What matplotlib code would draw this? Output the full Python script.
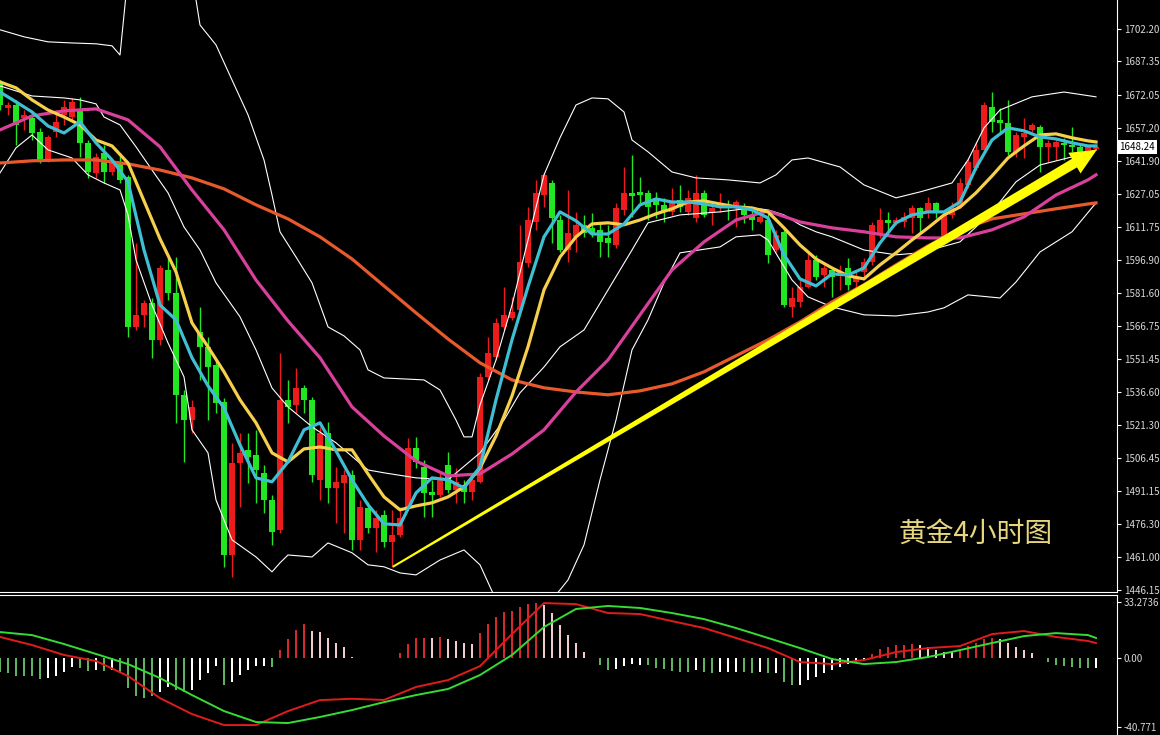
import numpy as np
import matplotlib.pyplot as plt
from matplotlib.patches import Polygon

plt.rcParams['font.family'] = ['Noto Sans CJK SC', 'DejaVu Sans']

# ---- 4h gold candles (oldest first) ----
opens = [1677.6, 1666.2, 1667.5, 1661.6, 1661.6, 1655.2, 1642.4, 1655.2, 1663.0, 1662.0,
         1665.2, 1650.2, 1636.5, 1645.6, 1636.9, 1641.0, 1634.7, 1566.2, 1571.7, 1577.2,
         1560.3, 1592.2, 1581.7, 1535.2, 1523.8, 1563.9, 1557.1, 1548.9, 1532.0, 1462.1,
         1504.1, 1510.1, 1507.8, 1499.6, 1487.2, 1473.5, 1532.9, 1530.6, 1538.4, 1532.9,
         1496.4, 1517.8, 1492.7, 1495.0, 1498.7, 1469.0, 1483.6, 1474.5, 1480.4, 1468.1,
         1471.3, 1484.0, 1511.0, 1502.3, 1490.9, 1489.5, 1503.2, 1491.8, 1494.1, 1490.9,
         1495.5, 1543.4, 1552.5, 1566.2, 1570.3, 1574.0, 1595.4, 1614.1, 1626.4, 1631.9,
         1615.0, 1601.3, 1607.3, 1612.8, 1611.4, 1610.5, 1606.8, 1603.6, 1619.6, 1627.4,
         1627.8, 1627.4, 1625.1, 1621.9, 1618.7, 1624.2, 1618.7, 1615.9, 1627.4, 1618.2,
         1620.9, 1621.9, 1621.9, 1620.5, 1617.3, 1614.1, 1615.0, 1601.3, 1609.6, 1575.3,
         1577.6, 1584.5, 1596.8, 1589.9, 1592.2, 1589.4, 1593.1, 1586.7, 1591.3, 1595.9,
         1608.2, 1615.0, 1613.7, 1614.1, 1615.9, 1620.5, 1618.2, 1622.8, 1605.9, 1617.3,
         1620.9, 1631.0, 1638.8, 1647.0, 1666.6, 1660.7, 1659.3, 1646.1, 1652.9, 1656.1,
         1657.5, 1648.4, 1648.4, 1650.2, 1649.3, 1648.4, 1646.1, 1647.4]
highs = [1678.9, 1668.9, 1669.8, 1665.2, 1663.9, 1657.0, 1653.8, 1665.2, 1669.8, 1670.7,
         1671.2, 1651.5, 1645.6, 1649.3, 1642.4, 1645.6, 1635.6, 1604.5, 1578.5, 1579.4,
         1594.5, 1597.7, 1598.1, 1537.4, 1532.9, 1575.3, 1561.6, 1551.1, 1533.8, 1513.3,
         1517.8, 1517.8, 1519.2, 1503.2, 1489.5, 1554.3, 1542.0, 1547.5, 1539.7, 1534.3,
         1520.6, 1522.8, 1502.3, 1500.9, 1500.9, 1487.2, 1486.3, 1482.7, 1482.7, 1482.7,
         1484.0, 1515.5, 1516.0, 1505.5, 1496.4, 1499.6, 1509.2, 1501.8, 1496.4, 1498.7,
         1545.2, 1561.6, 1570.3, 1584.5, 1579.9, 1612.8, 1621.0, 1633.3, 1636.5, 1633.3,
         1617.3, 1628.7, 1618.7, 1617.3, 1618.2, 1613.7, 1612.8, 1622.8, 1639.2, 1644.7,
         1634.7, 1628.7, 1627.8, 1625.1, 1629.6, 1631.0, 1628.7, 1635.6, 1628.7, 1621.9,
         1627.4, 1624.2, 1624.2, 1622.8, 1620.5, 1619.6, 1618.7, 1610.5, 1611.4, 1584.5,
         1588.6, 1600.4, 1599.1, 1594.5, 1593.1, 1594.5, 1597.7, 1591.3, 1597.7, 1614.1,
         1620.5, 1618.7, 1616.4, 1618.7, 1621.9, 1620.9, 1625.5, 1623.2, 1618.7, 1623.2,
         1634.2, 1643.3, 1650.6, 1668.9, 1673.5, 1666.2, 1669.8, 1655.2, 1661.6, 1659.3,
         1658.4, 1651.5, 1651.5, 1652.5, 1657.5, 1649.3, 1649.3, 1649.3]
lows = [1665.2, 1663.0, 1649.3, 1656.1, 1651.5, 1641.0, 1641.5, 1652.9, 1658.4, 1660.7,
        1643.8, 1634.2, 1634.2, 1631.9, 1635.6, 1631.9, 1561.6, 1564.8, 1566.2, 1552.1,
        1558.0, 1578.5, 1522.4, 1504.6, 1517.8, 1542.0, 1523.8, 1527.0, 1456.7, 1452.1,
        1484.0, 1495.0, 1485.9, 1481.3, 1466.7, 1472.2, 1522.4, 1527.0, 1527.0, 1495.5,
        1487.2, 1485.9, 1476.7, 1472.2, 1464.4, 1464.4, 1472.2, 1463.5, 1465.8, 1456.7,
        1470.4, 1483.6, 1501.8, 1479.5, 1479.5, 1488.6, 1490.4, 1485.9, 1485.9, 1487.2,
        1495.0, 1542.0, 1551.1, 1564.8, 1569.4, 1573.0, 1593.6, 1610.5, 1621.0, 1604.5,
        1600.4, 1595.9, 1600.4, 1607.3, 1607.3, 1598.1, 1598.1, 1602.3, 1617.3, 1616.4,
        1622.8, 1615.0, 1615.9, 1614.1, 1617.3, 1618.7, 1617.3, 1614.1, 1616.4, 1612.8,
        1618.7, 1615.0, 1611.8, 1613.7, 1610.5, 1613.7, 1595.4, 1600.4, 1575.3, 1570.8,
        1575.3, 1584.0, 1587.6, 1584.5, 1579.9, 1583.1, 1583.1, 1584.0, 1588.6, 1594.5,
        1606.8, 1609.6, 1612.8, 1611.8, 1609.1, 1609.1, 1615.9, 1615.9, 1605.0, 1615.9,
        1620.5, 1629.6, 1637.8, 1646.1, 1655.2, 1655.2, 1644.7, 1643.8, 1643.3, 1655.2,
        1636.9, 1641.5, 1642.4, 1642.4, 1646.1, 1643.8, 1644.7, 1647.0]
closes = [1667.5, 1667.5, 1658.4, 1663.0, 1654.7, 1642.4, 1652.9, 1659.8, 1666.6, 1668.9,
          1650.2, 1636.9, 1643.8, 1636.9, 1641.0, 1633.3, 1566.2, 1571.7, 1577.2, 1560.3,
          1593.1, 1581.7, 1535.2, 1523.8, 1529.7, 1557.1, 1547.9, 1531.5, 1462.1, 1504.1,
          1508.7, 1506.9, 1500.9, 1487.2, 1472.6, 1532.9, 1529.7, 1538.4, 1532.9, 1498.7,
          1517.8, 1492.7, 1495.5, 1498.7, 1469.0, 1484.0, 1474.5, 1479.0, 1468.1, 1471.3,
          1479.0, 1511.0, 1504.6, 1490.4, 1489.5, 1497.3, 1491.8, 1495.5, 1490.9, 1496.4,
          1543.4, 1554.3, 1568.0, 1571.7, 1573.0, 1595.9, 1615.0, 1627.4, 1635.6, 1615.9,
          1601.3, 1609.1, 1612.8, 1609.1, 1609.1, 1605.0, 1604.5, 1620.5, 1627.4, 1626.0,
          1626.4, 1621.0, 1621.9, 1618.7, 1623.2, 1621.0, 1625.1, 1627.4, 1617.3, 1620.5,
          1622.8, 1621.4, 1623.2, 1617.3, 1615.0, 1616.4, 1599.1, 1608.2, 1576.2, 1579.4,
          1584.5, 1596.8, 1589.0, 1593.1, 1589.0, 1591.3, 1585.4, 1589.0, 1595.9, 1612.8,
          1615.0, 1613.7, 1615.0, 1616.4, 1620.5, 1615.9, 1622.8, 1618.2, 1617.3, 1620.5,
          1631.9, 1641.5, 1647.0, 1667.5, 1659.8, 1659.3, 1646.1, 1653.8, 1654.7, 1658.4,
          1648.4, 1650.2, 1650.6, 1649.3, 1648.4, 1645.6, 1648.4, 1648.24]

# ---- moving averages (read every 2 / every 4 bars) ----
fast_idx = list(range(0, 137, 2)) + [137]
ma_cyan = [1673.4, 1668.9, 1664.3, 1657.9, 1654.7, 1659.8, 1650.2, 1642.4, 1632.4, 1601.3,
           1576.2, 1569.4, 1552.1, 1539.3, 1529.2, 1512.3, 1497.3, 1495.5, 1504.6, 1519.2,
           1522.4, 1509.6, 1496.4, 1485.0, 1476.3, 1475.8, 1490.4, 1497.3, 1496.4, 1492.7,
           1502.3, 1532.9, 1560.3, 1584.5, 1607.3, 1618.7, 1614.6, 1608.6, 1608.6, 1613.2,
           1621.9, 1624.6, 1623.2, 1623.2, 1622.3, 1621.0, 1621.0, 1619.6, 1615.9, 1599.1,
           1588.1, 1584.9, 1590.4, 1589.9, 1593.1, 1604.5, 1613.7, 1617.3, 1618.7, 1618.7,
           1623.2, 1638.8, 1651.5, 1657.0, 1655.7, 1652.9, 1652.0, 1650.2, 1648.8, 1648.8]
ma_yellow = [1678.0, 1675.3, 1669.8, 1665.2, 1662.0, 1658.4, 1651.5, 1648.8, 1641.0, 1623.7,
             1606.4, 1591.3, 1568.0, 1557.1, 1545.7, 1532.9, 1522.4, 1508.7, 1504.6, 1510.5,
             1511.4, 1510.1, 1510.1, 1499.1, 1488.6, 1482.7, 1484.5, 1485.9, 1488.6, 1493.2,
             1501.8, 1516.4, 1534.7, 1557.1, 1583.1, 1598.1, 1607.3, 1613.2, 1613.7, 1612.8,
             1615.0, 1617.8, 1620.1, 1623.2, 1623.7, 1622.3, 1621.0, 1620.5, 1618.7, 1611.4,
             1603.6, 1597.2, 1593.1, 1589.5, 1588.1, 1594.5, 1600.0, 1605.9, 1611.4, 1617.3,
             1620.9, 1627.4, 1635.1, 1643.3, 1648.8, 1653.8, 1654.3, 1652.5, 1651.1, 1650.6]
slow_idx = list(range(0, 137, 4)) + [137]
ma_magenta = [1656.1, 1662.5, 1664.8, 1665.7, 1660.7, 1648.4, 1628.7, 1610.5, 1587.6, 1568.9,
              1552.1, 1529.7, 1516.4, 1505.0, 1498.2, 1499.1, 1508.2, 1519.2, 1536.5, 1551.1,
              1571.7, 1592.2, 1605.0, 1615.0, 1619.1, 1614.1, 1611.4, 1609.6, 1607.3, 1606.8,
              1606.8, 1610.5, 1616.4, 1626.4, 1633.3, 1635.6]
ma_orange = [1641.0, 1642.0, 1642.4, 1642.4, 1640.6, 1637.8, 1634.2, 1629.2, 1621.9, 1615.5,
             1607.3, 1597.2, 1584.9, 1572.6, 1560.7, 1549.8, 1542.0, 1538.4, 1536.5, 1535.2,
             1537.0, 1540.2, 1545.7, 1553.0, 1560.3, 1568.5, 1577.6, 1585.4, 1594.5, 1603.2,
             1610.5, 1615.5, 1617.8, 1620.1, 1622.3, 1622.8]

# ---- thin white band lines ----
band1_idx = [0, 3, 6, 9, 12, 14, 15, 16, 24, 25, 27, 29, 31, 33, 34, 35, 37, 39, 41, 43, 45, 46, 48,
             53, 55, 57, 58, 59, 60, 62, 64, 66, 68, 70, 72, 74, 76, 78, 79, 81, 84, 87, 91, 95,
             97, 99, 101, 105, 108, 112, 115, 119, 121, 123, 125, 129, 133, 137]
band1 = [1701.8, 1698.6, 1696.3, 1695.8, 1695.4, 1694.5, 1690.3, 1726.9, 1726.9, 1704.0, 1694.9,
         1678.9, 1663.0, 1642.4, 1626.4, 1609.6, 1598.1, 1586.3, 1566.2, 1562.1, 1555.7, 1546.6,
         1542.9, 1542.0, 1537.4, 1523.7, 1516.0, 1516.0, 1530.6, 1551.1, 1576.2, 1605.9, 1635.6,
         1652.5, 1667.5, 1670.7, 1670.3, 1664.3, 1651.5, 1646.1, 1636.9, 1634.2, 1633.3, 1631.9,
         1635.6, 1642.4, 1643.3, 1639.2, 1631.0, 1625.1, 1627.8, 1631.9, 1642.4, 1657.0, 1665.2,
         1671.2, 1673.4, 1671.2]
band2_idx = [0, 4, 8, 10, 12, 13, 15, 17, 19, 21, 23, 25, 27, 30, 32, 34, 36, 39, 42, 46, 48, 52,
             56, 60, 63, 65, 68, 70, 73, 79, 81, 85, 90, 94, 96, 98, 100, 102, 104, 108, 112, 115,
             120, 124, 127, 130, 134, 137]
band2 = [1676.2, 1671.6, 1670.7, 1669.8, 1668.0, 1662.0, 1658.4, 1648.4, 1637.8, 1627.4, 1611.8,
         1601.3, 1586.3, 1570.8, 1555.7, 1538.3, 1529.7, 1520.6, 1513.3, 1500.9, 1499.6, 1497.3,
         1496.4, 1508.7, 1523.7, 1536.1, 1547.9, 1557.1, 1564.8, 1601.3, 1613.7, 1617.3, 1618.7,
         1620.5, 1619.6, 1617.3, 1612.8, 1609.6, 1607.3, 1601.3, 1599.1, 1600.0, 1605.0, 1618.7,
         1632.4, 1640.1, 1643.8, 1647.0]
band3_idx = [0, 2, 4, 6, 9, 11, 13, 15, 16, 17, 19, 21, 23, 24, 26, 27, 29, 32, 34, 35, 36, 39,
             41, 44, 46, 48, 50, 52, 55, 58, 60, 62, 69, 71, 73, 75, 77, 79, 81, 83, 85, 90, 92,
             95, 96, 99, 101, 104, 108, 112, 116, 118, 121, 125, 127, 130, 134, 137]
band3 = [1636.5, 1647.9, 1653.8, 1647.0, 1643.3, 1635.6, 1631.9, 1628.7, 1617.3, 1596.8, 1576.2,
         1558.9, 1543.4, 1519.2, 1508.7, 1487.2, 1469.0, 1461.2, 1454.4, 1458.5, 1462.1, 1461.2,
         1467.6, 1463.1, 1457.6, 1456.7, 1453.9, 1453.0, 1459.8, 1464.4, 1457.6, 1441.6, 1441.6,
         1450.7, 1466.7, 1496.4, 1523.7, 1555.7, 1569.4, 1586.3, 1600.0, 1602.7, 1607.3, 1608.2,
         1605.9, 1587.6, 1579.9, 1575.3, 1571.7, 1571.2, 1573.0, 1574.9, 1580.8, 1579.4, 1586.7,
         1600.4, 1609.6, 1622.8]

# trend arrow (bar index, price)
arrow_x = [49.1, 137.1]
arrow_y = [1456.7, 1647.0]

price_ticks = [1702.20, 1687.35, 1672.05, 1657.20, 1641.90, 1627.05, 1611.75, 1596.90, 1581.60,
               1566.75, 1551.45, 1536.60, 1521.30, 1506.45, 1491.15, 1476.30, 1461.00, 1446.15]
last_price = 1648.24

# ---- MACD ----
macd_hist = [-7.9, -8.9, -10.5, -10.5, -10.5, -12.5, -11.9, -10.5, -7.9, -5.0,
             -5.9, -7.3, -6.9, -7.3, -6.9, -8.5, -17.4, -22.4, -23.8, -22.4,
             -19.8, -16.8, -18.8, -19.8, -18.8, -12.9, -8.9, -4.6, -15.8, -13.9,
             -9.9, -6.9, -4.6, -4.6, -5.3, 5.0, 11.3, 16.8, 20.2, 16.4,
             15.8, 11.9, 9.3, 6.9, 1.0, 0.4, 0.3, 0.3, 0.3, 0.5,
             3.0, 8.5, 11.9, 11.9, 11.9, 12.9, 11.3, 10.5, 9.3, 8.3,
             14.9, 20.2, 24.4, 27.3, 28.3, 30.7, 32.3, 33.1, 31.7, 26.7,
             19.8, 13.9, 9.3, 4.0, 0.5, -4.0, -6.9, -6.5, -4.6, -3.4,
             -4.0, -4.0, -5.9, -6.5, -7.3, -7.9, -7.9, -6.9, -7.9, -8.5,
             -7.9, -7.9, -7.9, -7.9, -8.5, -7.9, -8.9, -8.9, -13.9, -16.0,
             -15.8, -12.9, -11.3, -8.9, -6.9, -5.3, -3.4, -2.0, -1.0, 2.6,
             5.3, 6.9, 7.9, 7.9, 8.5, 7.9, 6.9, 5.0, 4.0, 4.0,
             5.3, 7.3, 9.3, 11.3, 12.3, 11.3, 8.9, 6.5, 5.0, 3.4,
             0.4, -2.0, -4.0, -4.6, -5.3, -5.9, -5.9, -5.9]
# r = rising red, p = falling pink, g = falling green, w = rising white
hist_codes = ("ggggggwwww" "ggwgwggggg" "wwggwwwwgw" "wwwwgrrrrp" "pppppppppr"
              "rrrrprpppp" "rrrrrrrrpp" "ppppwggwww" "wggggggwgg" "wwwggwgwgg"
              "wwwwwwwwwr" "rrrrrppppp" "rrrrrppppp" "wggggggw")
macd_line = [12.7, 7.9, 2.0, -1.6, -10.5, -23.6, -33.1, -39.6, -39.6, -31.3,
             -24.8, -24.0, -24.7, -17.0, -12.9, -4.6, 14.4, 32.8, 32.2, 26.9,
             26.3, 22.1, 18.0, 12.1, 6.1, -2.2, -3.4, -1.0, 3.7, 6.1,
             7.3, 14.4, 16.2, 12.7, 10.3, 9.1]
signal_line = [15.6, 13.8, 8.5, 2.6, -3.4, -11.7, -21.8, -31.3, -37.8, -38.4,
               -34.8, -30.7, -26.0, -21.8, -18.2, -9.9, 2.0, 18.6, 29.3, 31.1,
               29.9, 26.9, 23.3, 18.0, 12.1, 6.1, -0.4, -3.4, -2.2, 0.8,
               4.9, 9.1, 13.2, 15.0, 13.8, 12.1]
macd_ticks = [33.2736, 0.0, -40.771]
macd_labels = ['33.2736', '0.00', '-40.771']

# ---- figure ----
W, H = 1160, 735
fig = plt.figure(figsize=(W / 100, H / 100), dpi=100, facecolor='black')
ax = fig.add_axes([0, 1 - 592 / H, 1117 / W, 592 / H], facecolor='black')
axm = fig.add_axes([0, 0, 1117 / W, 140 / H], facecolor='black')

xmax = 1117 / 8
ax.set_xlim(0, xmax)
axm.set_xlim(0, xmax)
ax.set_ylim(1445.2, 1715.4)
axm.set_ylim(-45.5, 37.6)

# candles
idx = np.arange(len(closes))
o, h, l, c = map(np.array, (opens, highs, lows, closes))
colors = np.where(c >= o, '#ec1c1c', '#22e622')
ax.vlines(idx, l, h, colors=colors, linewidth=1, zorder=2)
ax.bar(idx, np.maximum(np.abs(c - o), 0.6), bottom=np.minimum(o, c), width=0.72,
       color=colors, linewidth=0, zorder=2)

# bands and averages
for bi, bv in [(band1_idx, band1), (band2_idx, band2), (band3_idx, band3)]:
    ax.plot(bi, bv, color='white', lw=0.8, zorder=3)
ax.plot(slow_idx, ma_orange, color='#e8592b', lw=2.3, zorder=4)
ax.plot(slow_idx, ma_magenta, color='#d8409c', lw=2.3, zorder=4)
ax.plot(fast_idx, ma_yellow, color='#f6cf4c', lw=2.3, zorder=5)
ax.plot(fast_idx, ma_cyan, color='#3ebfd3', lw=2.3, zorder=5)

# tapered trend arrow
fig.canvas.draw()
p0 = ax.transData.transform((arrow_x[0], arrow_y[0]))
p1 = ax.transData.transform((arrow_x[1], arrow_y[1]))
d = (p1 - p0) / np.linalg.norm(p1 - p0)
n = np.array([-d[1], d[0]])
base = p1 - d * 26
pts = [p0 + n * 1.0, base + n * 5.0, base + n * 12, p1, base - n * 12, base - n * 5.0, p0 - n * 1.0]
ax.add_patch(Polygon(ax.transData.inverted().transform(pts), closed=True,
                     facecolor='#ffff00', edgecolor='none', zorder=6))

# right axis
for a in (ax, axm):
    for s in a.spines.values():
        s.set_visible(False)
    a.spines['right'].set_visible(True)
    a.spines['right'].set_color('white')
    a.yaxis.tick_right()
    a.tick_params(axis='y', colors='white', labelcolor='#d8d8d8', labelsize=7,
                  length=3, width=0.8, pad=2)
    a.tick_params(axis='x', bottom=False, labelbottom=False)
ax.spines['bottom'].set_visible(True)
ax.spines['bottom'].set_color('white')
axm.spines['top'].set_visible(True)
axm.spines['top'].set_color('white')

ax.set_yticks(price_ticks)
ax.set_yticklabels([f'{t:.2f}' for t in price_ticks])
ax.text(1.002, last_price, f'{last_price:.2f}', transform=ax.get_yaxis_transform(),
        ha='left', va='center', fontsize=7, color='black', zorder=10, clip_on=False,
        bbox=dict(facecolor='white', edgecolor='none', pad=1.5))

ax.text(0.873, 0.098, '黄金4小时图', transform=ax.transAxes, color='#e6d77e',
        fontsize=20, ha='center', va='center')

# MACD panel
code_colors = {'r': '#d42a2a', 'p': '#f2cccc', 'g': '#5fb35f', 'w': '#ffffff'}
axm.bar(idx, macd_hist, width=0.34, color=[code_colors[k] for k in hist_codes], linewidth=0)
axm.plot(slow_idx, macd_line, color='#e01c1c', lw=1.4)
axm.plot(slow_idx, signal_line, color='#34dc34', lw=1.4)
axm.set_yticks(macd_ticks)
axm.set_yticklabels(macd_labels)

plt.savefig('out.png', dpi=100, facecolor='black')
